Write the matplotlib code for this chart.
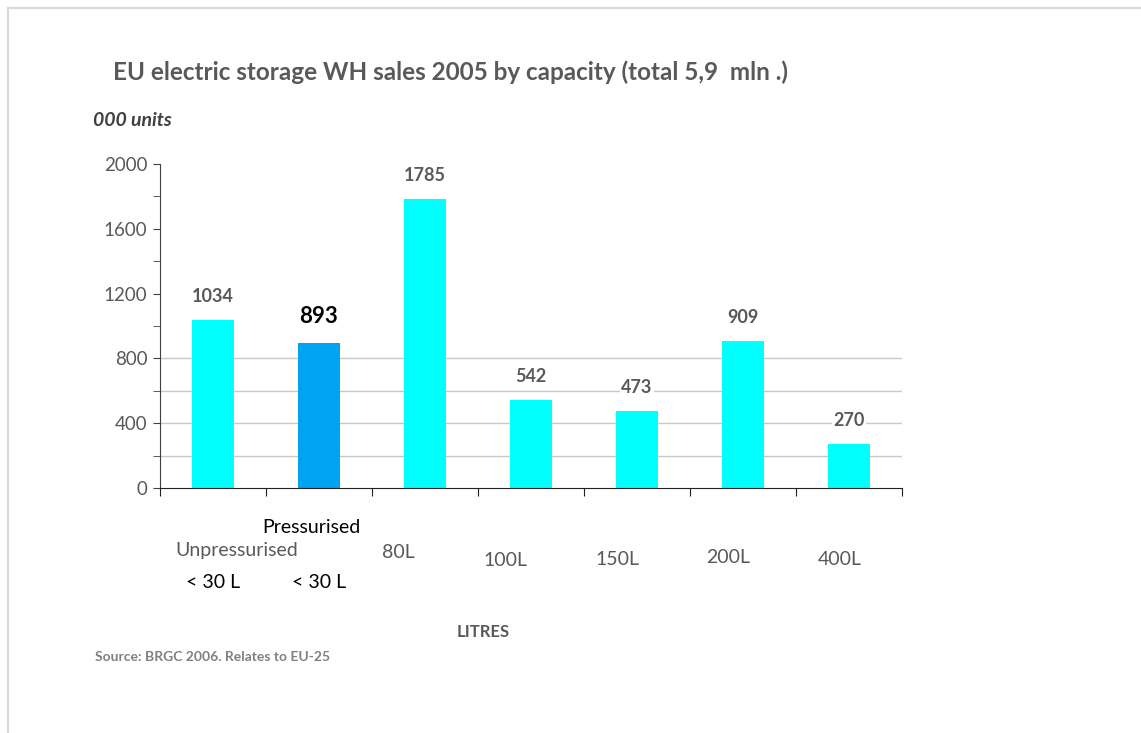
import matplotlib
matplotlib.use("Agg")
import matplotlib.pyplot as plt
from matplotlib.lines import Line2D

plt.rcParams['font.family'] = ['Lato', 'DejaVu Sans']

# data
categories = ["Unpressurised\n< 30 L", "Pressurised\n< 30 L", "80L", "100L", "150L", "200L", "400L"]
sales = [1034, 893, 1785, 542, 473, 909, 270]
highlight = [False, True, False, False, False, False, False]
y_ticks = [0, 400, 800, 1200, 1600, 2000]
grid_levels = [200, 400, 600, 800]

GREY = "#595959"
CYAN = "#00FFFF"
BLUE = "#00A3F2"

fig = plt.figure(figsize=(11.41, 7.33), dpi=100)
fig.patch.set_facecolor("white")

# light frame at top and left
fig.add_artist(Line2D([8/1141, 1.0], [1 - 8/733, 1 - 8/733], transform=fig.transFigure, color="#d9d9d9", lw=1.5))
fig.add_artist(Line2D([8/1141, 8/1141], [0, 1 - 8/733], transform=fig.transFigure, color="#d9d9d9", lw=1.5))

ax = fig.add_axes([160/1141, 245/733, 742/1141, 324/733])
x = list(range(len(categories)))
colors = [BLUE if h else CYAN for h in highlight]

for g in grid_levels:
    ax.axhline(g, color="#c8c8c8", lw=1, zorder=0)

ax.bar(x, sales, width=0.39, color=colors, zorder=2)

ax.set_xlim(-0.5, len(categories) - 0.5)
ax.set_ylim(0, 2000)
ax.set_yticks(y_ticks)
ax.set_yticks([200, 600, 1000, 1400, 1800], minor=True)
ax.tick_params(axis="y", which="both", direction="out", length=5, colors="#404040",
               labelcolor=GREY, labelsize=13.5, pad=4)
ax.set_xticks([i - 0.5 for i in range(len(categories) + 1)])
ax.set_xticklabels([])
ax.tick_params(axis="x", direction="out", length=6, colors="#202020")
for s in ["top", "right"]:
    ax.spines[s].set_visible(False)
ax.spines["left"].set_color("#404040")
ax.spines["bottom"].set_color("#202020")

# value labels
for i, v in enumerate(sales):
    if highlight[i]:
        ax.annotate(str(v), (i, v), xytext=(0, 19), textcoords="offset points",
                    ha="center", va="center", fontsize=16, fontweight="bold", color="black",
                    bbox=dict(facecolor="white", edgecolor="none", pad=1))
    else:
        ax.annotate(str(v), (i, v), xytext=(0, 17), textcoords="offset points",
                    ha="center", va="center", fontsize=13, fontweight="bold", color=GREY,
                    bbox=dict(facecolor="white", edgecolor="none", pad=1))

# category labels, staggered like the original
tr = ax.get_xaxis_transform()
label_y = [-0.194, -0.123, -0.198, -0.225, -0.222, -0.213, -0.222]
label_dx = [0.22, -0.07, -0.25, -0.24, -0.18, -0.14, -0.09]
for i, lab in enumerate(categories):
    parts = lab.split("\n")
    col = GREY if i != 1 else "black"
    ax.text(i + label_dx[i], label_y[i], parts[0], transform=tr, ha="center", va="center",
            fontsize=14, color=col, clip_on=False)
    if len(parts) > 1:
        ax.text(i, -0.293, parts[1], transform=tr, ha="center", va="center",
                fontsize=14, color="black", clip_on=False)

fig.text(113/1141, 1 - 72/733, "EU electric storage WH sales 2005 by capacity (total 5,9  mln .)",
         ha="left", va="center", fontsize=17.5, fontweight="bold", color=GREY)
fig.text(93/1141, 1 - 121/733, "000 units", ha="left", va="center", fontsize=14,
         fontweight="bold", fontstyle="italic", color="#404040")
fig.text(483/1141, 1 - 632/733, "LITRES", ha="center", va="center", fontsize=12,
         fontweight="bold", color=GREY)
fig.text(95/1141, 1 - 657/733, "Source: BRGC 2006. Relates to EU-25", ha="left", va="center",
         fontsize=10, fontweight="bold", color="#808080")

fig.savefig("out.png", dpi=100, facecolor="white")
